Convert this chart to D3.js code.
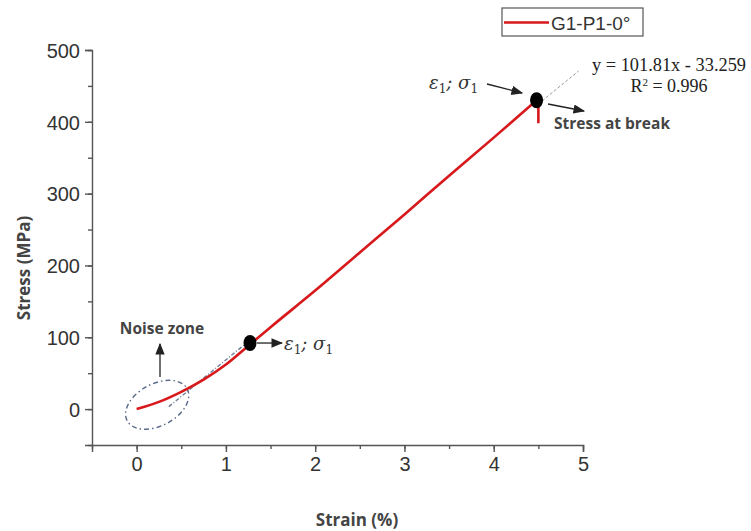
<!DOCTYPE html>
<html lang="en">
<head>
<meta charset="UTF-8">
<title>Stress-strain</title>
<script src="https://d3js.org/d3.v7.min.js"></script>
<style>
  body { margin: 0; background: #fff; }
  .tick text { font-family: "Liberation Sans", Arial, sans-serif; font-size: 20px; fill: #333; }
  .axis path, .axis line { stroke: #555; stroke-width: 1.4; }
  .title { font-family: "Open Sans", sans-serif; font-weight: bold; font-size: 17px; fill: #444; }
  .note { font-family: "Open Sans", sans-serif; font-weight: bold; font-size: 15.5px; fill: #444; }
  .greek { font-family: "DejaVu Serif", serif; font-style: italic; font-size: 18px; fill: #333; }
  .eq { font-family: "Liberation Serif", serif; font-size: 18px; fill: #222; }
</style>
</head>
<body>
<svg id="chart" width="751" height="531"></svg>
<script>
  // curve
  const strain = [0, 0.25, 0.5, 0.75, 1.0, 1.25, 1.5, 2.0, 2.5, 3.0, 3.5, 4.0, 4.48];
  const stress = [0, 10, 24, 41, 62, 88, 114, 165, 218, 271, 325, 378, 430];
  const breakDrop = [430, 398];
  const keyPoints = [[1.27, 92], [4.48, 430]];
  const fitSlope = 101.81, fitIntercept = -33.259;
  const xTicks = [0, 1, 2, 3, 4, 5];
  const yTicks = [0, 100, 200, 300, 400, 500];

  const svg = d3.select("#chart");
  const x = d3.scaleLinear().domain([-0.5, 5]).range([92, 583]);
  const y = d3.scaleLinear().domain([-50, 500]).range([445, 50]);

  // arrow head
  svg.append("defs").append("marker")
    .attr("id", "arr").attr("viewBox", "0 0 10 10").attr("refX", 9).attr("refY", 5)
    .attr("markerWidth", 9).attr("markerHeight", 9).attr("orient", "auto")
    .append("path").attr("d", "M0,1 L10,5 L0,9 z").attr("fill", "#222");

  // minor ticks
  const minorX = d3.range(-0.5, 5.01, 0.5);
  const minorY = d3.range(-50, 501, 50);
  svg.append("g").attr("class", "axis").attr("transform", "translate(0,445)")
    .call(d3.axisBottom(x).tickValues(minorX).tickSize(4).tickFormat(""))
    .call(g => g.select(".domain").remove());
  svg.append("g").attr("class", "axis").attr("transform", "translate(92,0)")
    .call(d3.axisLeft(y).tickValues(minorY).tickSize(4).tickFormat(""))
    .call(g => g.select(".domain").remove());

  // main axes
  svg.append("g").attr("class", "axis").attr("transform", "translate(0,445)")
    .call(d3.axisBottom(x).tickValues(xTicks).tickFormat(d3.format("d"))
      .tickSizeOuter(0).tickSize(7).tickPadding(5));
  svg.append("g").attr("class", "axis").attr("transform", "translate(92,0)")
    .call(d3.axisLeft(y).tickValues(yTicks).tickSizeOuter(0).tickSize(7).tickPadding(5))
    .selectAll(".tick text").attr("dy", "0.36em");

  svg.append("text").attr("class", "title")
    .attr("transform", "translate(30,268) rotate(-90)")
    .attr("text-anchor", "middle").text("Stress (MPa)");
  svg.append("text").attr("class", "title")
    .attr("x", 357).attr("y", 526).attr("text-anchor", "middle").text("Strain (%)");

  // fit line segments (dashed)
  const fit = v => fitSlope * v + fitIntercept;
  svg.append("line")
    .attr("x1", x(0.36)).attr("y1", y(fit(0.36))).attr("x2", x(1.27)).attr("y2", y(fit(1.27)))
    .attr("stroke", "#6f7d96").attr("stroke-width", 1.4).attr("stroke-dasharray", "4,2,1,2");
  svg.append("line")
    .attr("x1", x(4.5)).attr("y1", y(fit(4.5))).attr("x2", x(4.95)).attr("y2", y(fit(4.95)))
    .attr("stroke", "#999").attr("stroke-width", 1).attr("stroke-dasharray", "3,2");

  // noise zone ellipse
  svg.append("ellipse")
    .attr("cx", 0).attr("cy", 0).attr("rx", 34).attr("ry", 21)
    .attr("transform", `translate(${x(0.23)},${y(6)}) rotate(-28)`)
    .attr("fill", "none").attr("stroke", "#5b6b8c").attr("stroke-width", 1.4)
    .attr("stroke-dasharray", "5,3,1.5,3");

  // stress-strain curve
  const pts = strain.map((s, i) => [s, stress[i]]);
  svg.append("path").datum(pts)
    .attr("d", d3.line().x(d => x(d[0])).y(d => y(d[1])).curve(d3.curveMonotoneX))
    .attr("fill", "none").attr("stroke", "#d7191c").attr("stroke-width", 2.6);
  svg.append("line")
    .attr("x1", x(4.5)).attr("x2", x(4.5)).attr("y1", y(breakDrop[0])).attr("y2", y(breakDrop[1]))
    .attr("stroke", "#d7191c").attr("stroke-width", 2.6);

  // key points
  svg.selectAll(".kp").data(keyPoints).enter().append("ellipse")
    .attr("cx", d => x(d[0])).attr("cy", d => y(d[1])).attr("rx", 6.5).attr("ry", 8)
    .attr("fill", "#000");

  // annotations
  function greek(tx, ty) {
    const t = svg.append("text").attr("class", "greek").attr("x", tx).attr("y", ty);
    t.append("tspan").text("ε");
    t.append("tspan").attr("dy", 4).attr("font-size", 12).attr("font-style", "normal").text("1");
    t.append("tspan").attr("dy", -4).text("; σ");
    t.append("tspan").attr("dy", 4).attr("font-size", 12).attr("font-style", "normal").text("1");
  }
  svg.append("line").attr("x1", x(1.27) + 7).attr("y1", y(92)).attr("x2", x(1.27) + 32).attr("y2", y(92))
    .attr("stroke", "#222").attr("stroke-width", 1.3).attr("marker-end", "url(#arr)");
  greek(x(1.27) + 34, y(92) + 7);

  svg.append("line").attr("x1", 487).attr("y1", 84).attr("x2", 522).attr("y2", 93)
    .attr("stroke", "#222").attr("stroke-width", 1.3).attr("marker-end", "url(#arr)");
  greek(429, 89);

  svg.append("line").attr("x1", 548).attr("y1", 104).attr("x2", 584).attr("y2", 111)
    .attr("stroke", "#222").attr("stroke-width", 1.3).attr("marker-end", "url(#arr)");
  svg.append("text").attr("class", "note").attr("x", 554).attr("y", 129).text("Stress at break");

  svg.append("line").attr("x1", 160).attr("y1", 377).attr("x2", 160).attr("y2", 344)
    .attr("stroke", "#222").attr("stroke-width", 1.3).attr("marker-end", "url(#arr)");
  svg.append("text").attr("class", "note").attr("x", 162).attr("y", 334)
    .attr("text-anchor", "middle").text("Noise zone");

  // fit equation
  svg.append("text").attr("class", "eq").attr("x", 592).attr("y", 71)
    .attr("textLength", 154).attr("lengthAdjust", "spacingAndGlyphs")
    .text(`y = ${fitSlope}x - ${-fitIntercept}`);
  const r2 = svg.append("text").attr("class", "eq").attr("x", 669).attr("y", 92)
    .attr("text-anchor", "middle");
  r2.append("tspan").text("R");
  r2.append("tspan").attr("dy", -6).attr("font-size", 11).text("2");
  r2.append("tspan").attr("dy", 6).text(" = 0.996");

  // legend
  svg.append("rect").attr("x", 502).attr("y", 8).attr("width", 141).attr("height", 28)
    .attr("fill", "#fff").attr("stroke", "#555").attr("stroke-width", 1.2);
  svg.append("line").attr("x1", 504).attr("x2", 549).attr("y1", 22.5).attr("y2", 22.5)
    .attr("stroke", "#d7191c").attr("stroke-width", 2.6);
  svg.append("text").attr("x", 551).attr("y", 29.5)
    .attr("font-family", "Liberation Sans, Arial, sans-serif").attr("font-size", 19).attr("fill", "#333")
    .text("G1-P1-0°");
</script>
</body>
</html>
